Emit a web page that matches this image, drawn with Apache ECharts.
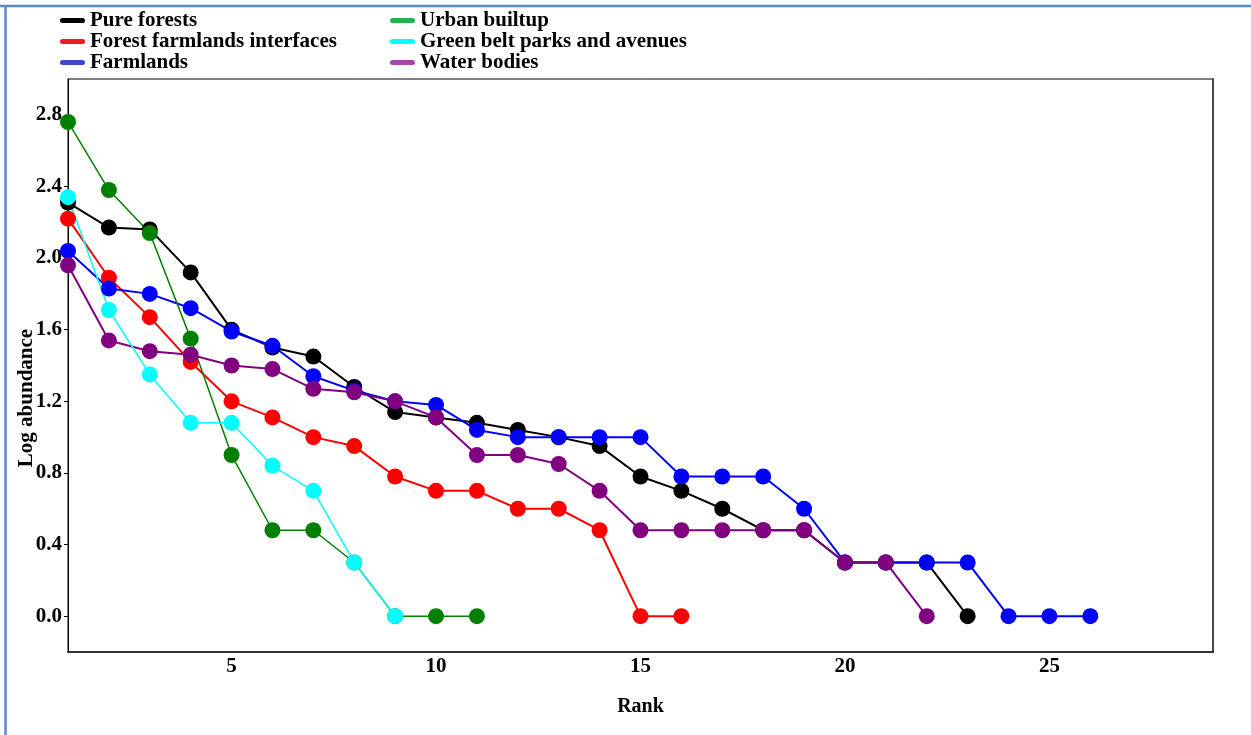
<!DOCTYPE html>
<html>
<head>
<meta charset="utf-8">
<script src="https://cdn.jsdelivr.net/npm/echarts@6/dist/echarts.min.js"></script>
<style>
  html, body { margin: 0; padding: 0; background: #ffffff; }
  #chart { width: 1251px; height: 735px; }
</style>
</head>
<body>
<div id="chart"></div>
<script>
// Rank positions (x) shared by all habitats
const ranks = [1, 2, 3, 4, 5, 6, 7, 8, 9, 10, 11, 12, 13, 14, 15, 16, 17, 18, 19, 20, 21, 22, 23, 24, 25, 26];

// Log10 abundance of species by rank, per habitat
const pureForests = [2.31, 2.17, 2.16, 1.92, 1.60, 1.50, 1.45, 1.28, 1.14, 1.11, 1.08, 1.04, 1.00, 0.95, 0.78, 0.70, 0.60, 0.48, 0.48, 0.30, 0.30, 0.30, 0.00];
const forestFarmlandInterfaces = [2.22, 1.89, 1.67, 1.42, 1.20, 1.11, 1.00, 0.95, 0.78, 0.70, 0.70, 0.60, 0.60, 0.48, 0.00, 0.00];
const farmlands = [2.04, 1.83, 1.80, 1.72, 1.59, 1.51, 1.34, 1.26, 1.20, 1.18, 1.04, 1.00, 1.00, 1.00, 1.00, 0.78, 0.78, 0.78, 0.60, 0.30, 0.30, 0.30, 0.30, 0.00, 0.00, 0.00];
const urbanBuiltup = [2.76, 2.38, 2.14, 1.55, 0.90, 0.48, 0.48, 0.30, 0.00, 0.00, 0.00];
const greenBelt = [2.34, 1.71, 1.35, 1.08, 1.08, 0.84, 0.70, 0.30, 0.00];
const waterBodies = [1.96, 1.54, 1.48, 1.46, 1.40, 1.38, 1.27, 1.25, 1.20, 1.11, 0.90, 0.90, 0.85, 0.70, 0.48, 0.48, 0.48, 0.48, 0.48, 0.30, 0.30, 0.00];

// Tick labels
const xTicks = [5, 10, 15, 20, 25];
const yTicks = [0.0, 0.4, 0.8, 1.2, 1.6, 2.0, 2.4, 2.8];

const FONT = "'Liberation Serif', 'Times New Roman', serif";

// Drawing order: later entries sit on top
const habitats = [
  { name: 'Forest farmlands interfaces', values: forestFarmlandInterfaces, color: '#ff0000', legendColor: '#ed1c24', width: 2 },
  { name: 'Pure forests', values: pureForests, color: '#000000', legendColor: '#000000', width: 2 },
  { name: 'Farmlands', values: farmlands, color: '#0000ff', legendColor: '#3f48cc', width: 2 },
  { name: 'Water bodies', values: waterBodies, color: '#800080', legendColor: '#a349a4', width: 2 },
  { name: 'Urban builtup', values: urbanBuiltup, color: '#008000', legendColor: '#22b14c', width: 1.5 },
  { name: 'Green belt parks and avenues', values: greenBelt, color: '#00ffff', legendColor: '#00ffff', width: 1.5 }
];

const legendColorOf = name => habitats.find(h => h.name === name).legendColor;
const legendItems = names => names.map(n => ({ name: n, itemStyle: { color: legendColorOf(n) } }));

const capsule = 'path://M2.5,0 H22.5 A2.5,2.5 0 0 1 22.5,5 H2.5 A2.5,2.5 0 0 1 2.5,0 Z';
const legendBase = {
  orient: 'vertical',
  top: 10,
  padding: 0,
  itemGap: 0,
  itemWidth: 25,
  itemHeight: 5,
  icon: capsule,
  selectedMode: false,
  textStyle: { fontFamily: FONT, fontWeight: 'bold', fontSize: 21, color: '#000', lineHeight: 20 }
};

const chart = echarts.init(document.getElementById('chart'), null, { renderer: 'canvas' });

chart.setOption({
  animation: false,
  backgroundColor: '#ffffff',
  graphic: [
    { type: 'line', shape: { x1: 0, y1: 6, x2: 1251, y2: 6 }, style: { stroke: '#5a89cc', lineWidth: 2.5 }, silent: true },
    { type: 'line', shape: { x1: 5.5, y1: 5, x2: 5.5, y2: 735 }, style: { stroke: '#5a89cc', lineWidth: 2.5 }, silent: true }
  ],
  legend: [
    Object.assign({}, legendBase, { left: 60, data: legendItems(['Pure forests', 'Forest farmlands interfaces', 'Farmlands']) }),
    Object.assign({}, legendBase, { left: 390, data: legendItems(['Urban builtup', 'Green belt parks and avenues', 'Water bodies']) })
  ],
  grid: {
    left: 68, right: 38, top: 79, bottom: 83,
    show: true, borderColor: '#000', borderWidth: 1, backgroundColor: '#fff',
    containLabel: false, outerBoundsMode: 'none'
  },
  xAxis: [{
    type: 'value',
    min: 1, max: 29,
    name: 'Rank',
    nameLocation: 'middle',
    nameGap: 45,
    nameMoveOverlap: false,
    nameTextStyle: { fontFamily: FONT, fontWeight: 'bold', fontSize: 20, color: '#000' },
    axisLine: { show: true, onZero: false, lineStyle: { color: '#333', width: 2 } },
    axisTick: { show: false },
    splitLine: { show: false },
    axisLabel: {
      customValues: xTicks,
      margin: 4,
      fontFamily: FONT, fontWeight: 'bold', fontSize: 21, color: '#000'
    }
  }],
  yAxis: [{
    type: 'value',
    min: -0.2, max: 3.0,
    name: 'Log abundance',
    nameLocation: 'middle',
    nameRotate: 90,
    nameGap: 31,
    nameMoveOverlap: false,
    nameTextStyle: { fontFamily: FONT, fontWeight: 'bold', fontSize: 21, color: '#000', padding: [0, 65, 0, 0] },
    axisLine: { show: true, onZero: false, lineStyle: { color: '#000', width: 1 } },
    axisTick: { show: true, customValues: yTicks, length: 4, lineStyle: { color: '#000' } },
    splitLine: { show: false },
    axisLabel: {
      customValues: yTicks,
      margin: 6,
      formatter: v => Number(v).toFixed(1),
      fontFamily: FONT, fontWeight: 'bold', fontSize: 21, color: '#000'
    }
  }, {
    type: 'value',
    position: 'right',
    min: -0.2, max: 3.0,
    axisLine: { show: true, onZero: false, lineStyle: { color: '#444', width: 2 } },
    axisTick: { show: false },
    axisLabel: { show: false },
    splitLine: { show: false }
  }],
  series: habitats.map(h => ({
    name: h.name,
    type: 'line',
    xAxisIndex: 0,
    yAxisIndex: 0,
    data: h.values.map((v, i) => [ranks[i], v]),
    symbol: 'circle',
    symbolSize: 16,
    showAllSymbol: true,
    itemStyle: { color: h.color },
    lineStyle: { color: h.color, width: h.width },
    emphasis: { disabled: true },
    clip: false
  }))
});
</script>
</body>
</html>
